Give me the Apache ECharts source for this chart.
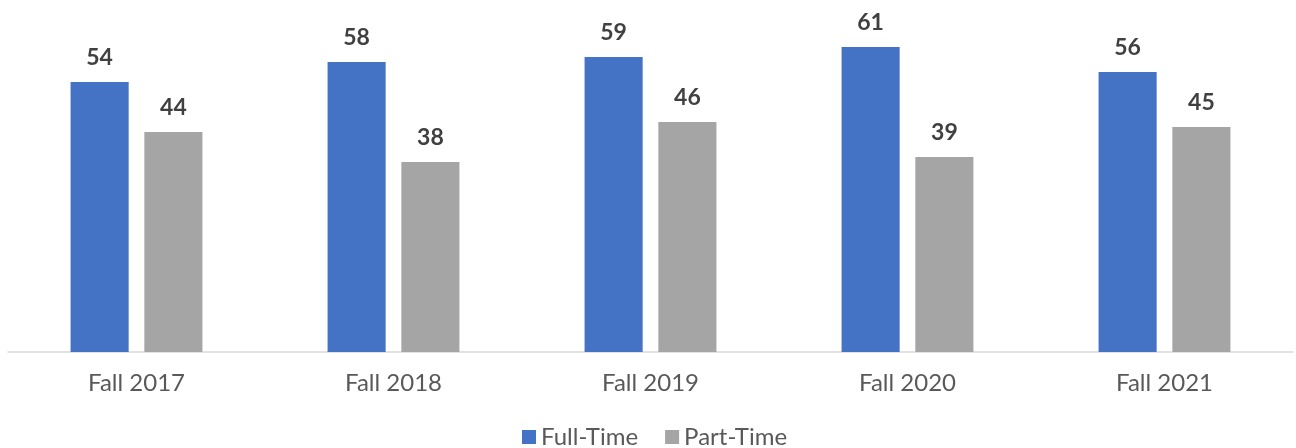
<!DOCTYPE html>
<html lang="en">
<head>
    <meta charset="UTF-8">
    <title></title>
    <script type="text/javascript" src="https://cdn.jsdelivr.net/npm/echarts@6/dist/echarts.min.js"></script>
    <style>
        html, body { margin: 0; padding: 0; background: #fff; }
    </style>
</head>
<body>
    <div id="main" style="width: 1296px;height:448px;"></div>
<script type="text/javascript">
var categories = ['Fall 2017', 'Fall 2018', 'Fall 2019', 'Fall 2020', 'Fall 2021'];
var fullTime = [54, 58, 59, 61, 56];
var partTime = [44, 38, 46, 39, 45];

var myChart = echarts.init(document.getElementById('main'));
var labelStyle = {
    show: true,
    position: 'top',
    distance: 13,
    fontFamily: 'Lato',
    fontSize: 23,
    fontWeight: 'bold',
    color: '#404040'
};
var option = {
    animation: false,
    textStyle: { fontFamily: 'Lato' },
    grid: {
        left: 8,
        right: 3,
        top: 2,
        bottom: 96,
        containLabel: false
    },
    legend: {
        bottom: -6,
        left: 517,
        itemWidth: 14,
        itemHeight: 14,
        itemGap: 27,
        icon: 'rect',
        textStyle: { fontSize: 24, color: '#595959', fontFamily: 'Lato' },
        data: ['Full-Time', 'Part-Time']
    },
    xAxis: {
        type: 'category',
        data: categories,
        axisLine: { lineStyle: { color: '#d9d9d9', width: 1.5 } },
        axisTick: { show: false },
        axisLabel: { fontSize: 24, color: '#595959', margin: 19, fontFamily: 'Lato' }
    },
    yAxis: {
        type: 'value',
        min: 0,
        max: 70,
        show: false,
        splitLine: { show: false }
    },
    series: [
        {
            name: 'Full-Time',
            type: 'bar',
            data: fullTime,
            barWidth: '22.6%',
            barGap: '27%',
            itemStyle: { color: '#4472c4' },
            label: labelStyle
        },
        {
            name: 'Part-Time',
            type: 'bar',
            data: partTime,
            barWidth: '22.6%',
            itemStyle: { color: '#a5a5a5' },
            label: labelStyle
        }
    ]
};
myChart.setOption(option);
</script>
</body>
</html>
